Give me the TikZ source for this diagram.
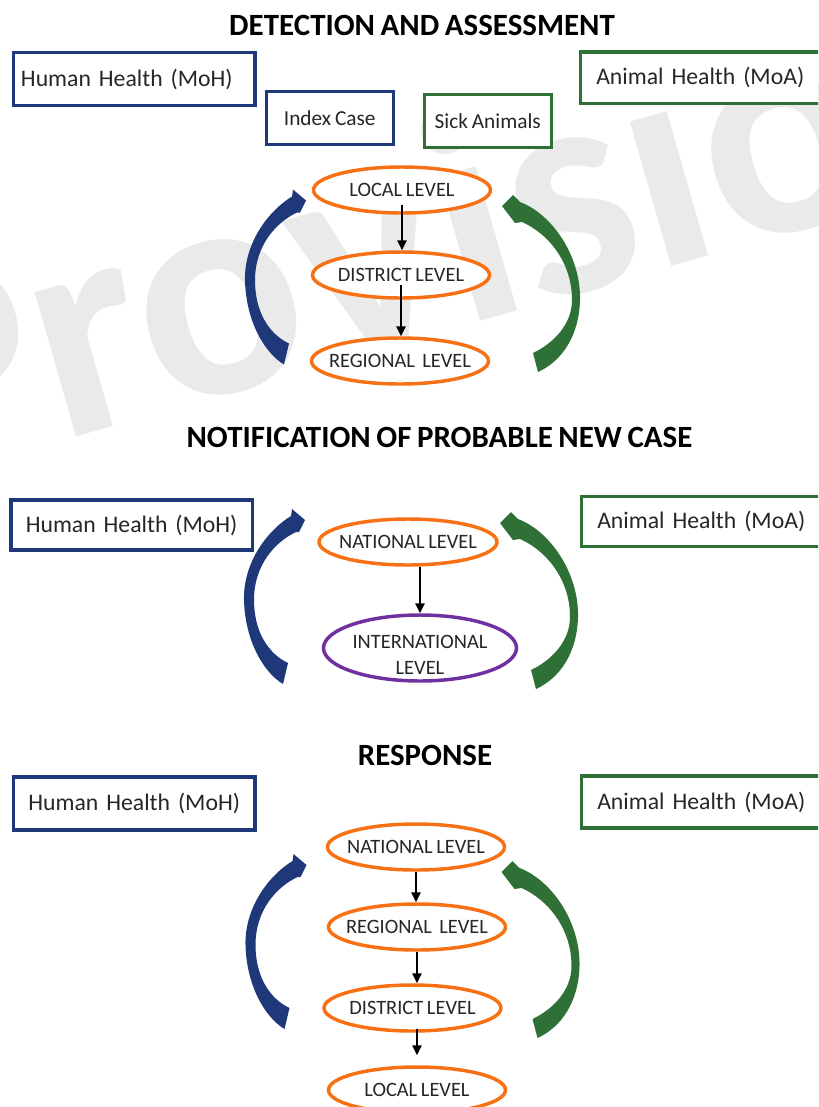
\documentclass[tikz,border=0pt]{standalone}
\usepackage{fontspec}
\setmainfont{Carlito}[WordSpace=0.8]
\usetikzlibrary{shapes.geometric,arrows.meta,calc}
\definecolor{navy}{RGB}{31,56,122}
\definecolor{leaf}{RGB}{46,112,54}
\definecolor{orng}{RGB}{248,112,20}
\definecolor{purp}{RGB}{112,48,160}
\definecolor{wmark}{RGB}{234,234,234}
\definecolor{txt}{RGB}{38,38,38}
\begin{document}
\begin{tikzpicture}[x=0.75pt,y=-0.75pt,
  title/.style={font=\bfseries\fontsize{23.2}{27}\selectfont,inner sep=0pt,text=black},
  boxtxt/.style={font=\fontsize{17.8}{21}\selectfont,text=txt},
  hbox/.style={draw=navy,fill=white,line width=2.6pt,boxtxt,minimum width=181pt,minimum height=39.75pt,text width=170pt,inner xsep=5.6pt,inner ysep=0pt},
  abox/.style={draw=leaf,fill=white,line width=2.6pt,boxtxt,minimum width=195pt,minimum height=38.6pt,text width=171.75pt,inner xsep=11.6pt,inner ysep=0pt,align=left},
  smallbox/.style={fill=white,line width=2.6pt,font=\fontsize{16}{19}\selectfont,text=txt,minimum width=95.25pt,minimum height=39.4pt,inner sep=0pt},
  ell/.style={ellipse,draw=orng,fill=white,line width=2.6pt,inner sep=0pt,minimum width=132.75pt,minimum height=34.5pt,font=\fontsize{15.3}{20}\selectfont,text=txt},
  etext/.style={inner sep=0pt,font=\fontsize{15.3}{20}\selectfont,text=txt},
  arr/.style={-{Triangle[length=7.5pt,width=7pt]},line width=1.5pt,draw=black},
  bluearc/.pic={\fill[navy] (0,0) -- (-13,-11) -- (-14,-4)
      .. controls (-40,12) and (-62,45) .. (-61,80)
      .. controls (-60,120) and (-42,152) .. (-22,164) -- (-17,143)
      .. controls (-38,133) and (-51,110) .. (-51,80)
      .. controls (-51,45) and (-30,22) .. (-9,12) -- (-6,12) -- cycle;},
  greenarc/.pic={\fill[leaf] (0,0) -- (11,-11) -- (18,-4)
      .. controls (50,8) and (79,50) .. (78,94)
      .. controls (77,130) and (60,155) .. (36,166) -- (31,147)
      .. controls (52,137) and (70,118) .. (70,94)
      .. controls (70,55) and (45,27) .. (20,16) -- (13,17) -- cycle;}
]
\useasboundingbox (0,0) rectangle (818,1107);
\clip (0,0) rectangle (818,1107);
\fill[white] (0,0) rectangle (818,1107);

% watermark
\node[rotate=16,anchor=base west,inner sep=0pt,text=wmark,font=\bfseries\fontsize{232}{232}\selectfont] (wm) at (-98,487) {Provisional};

% ---------- section 1
\node[title] (t1) at (422,25) {DETECTION AND ASSESSMENT};
\node[hbox,align=left] (hh1) at (134.3,79) {Human Health (MoH)};
\node[abox] (ah1) at (710.75,77.5) {Animal Health (MoA)};
\node[smallbox,draw=navy] (idx) at (329.75,118) {\raisebox{-3pt}{Index Case}};
\node[smallbox,draw=leaf] (sick) at (487.75,121) {Sick Animals};

\node[ell] (l1) at (402,190) {\makebox[0pt]{LOCAL LEVEL}};
\node[ell] (d1) at (401,275) {\makebox[0pt]{DISTRICT LEVEL}};
\node[ell] (r1) at (400,361) {\makebox[0pt]{REGIONAL\ \ LEVEL}};
\draw[arr] ($(l1.center)+(0,15)$) -- (l1.center |- d1.north);
\draw[arr] ($(d1.center)+(0,10)$) -- (d1.center |- r1.north);
\pic at (306,200.5) {bluearc};
\pic at (502,206) {greenarc};

% ---------- section 2
\node[title] (t2) at (439.5,437) {NOTIFICATION OF PROBABLE NEW CASE};
\node[hbox,align=center,minimum height=37.5pt] (hh2) at (131.6,525) {Human Health (MoH)};
\node[abox,minimum height=37.3pt] (ah2) at (711.75,521.6) {Animal Health (MoA)};
\node[ell,minimum width=133.5pt] (n2) at (408,542) {\makebox[0pt]{NATIONAL LEVEL}};
\node[ell,draw=purp,minimum width=144.75pt,minimum height=49.5pt] (i2) at (420,648) {};
\node[etext,align=center] (i2t) at (420,655) {INTERNATIONAL\\LEVEL};
\draw[arr] (n2.south -| i2.north) -- (i2.north);
\pic at (305,520) {bluearc};
\pic at (500,523) {greenarc};

% ---------- section 3
\node[title] (t3) at (425,755) {RESPONSE};
\node[hbox,align=center] (hh3) at (134.2,803.4) {Human Health (MoH)};
\node[abox,minimum height=39pt] (ah3) at (711.75,802) {Animal Health (MoA)};
\node[ell] (n3) at (416,847) {\makebox[0pt]{NATIONAL LEVEL}};
\node[ell] (r3) at (417,927) {\makebox[0pt]{REGIONAL\ \ LEVEL}};
\node[ell] (d3) at (412.5,1008) {\makebox[0pt]{DISTRICT LEVEL}};
\node[ell] (l3) at (417,1090) {\makebox[0pt]{LOCAL LEVEL}};
\draw[arr] (n3.south) -- (n3.south |- r3.north);
\draw[arr] (r3.south) -- (r3.south |- d3.north);
\draw[arr] ($(d3.south -| r3.south)+(0,-4)$) -- ($(l3.north -| r3.south)+(0,-10)$);
\pic at (306.5,865) {bluearc};
\pic at (501.5,872) {greenarc};
\end{tikzpicture}
\end{document}
